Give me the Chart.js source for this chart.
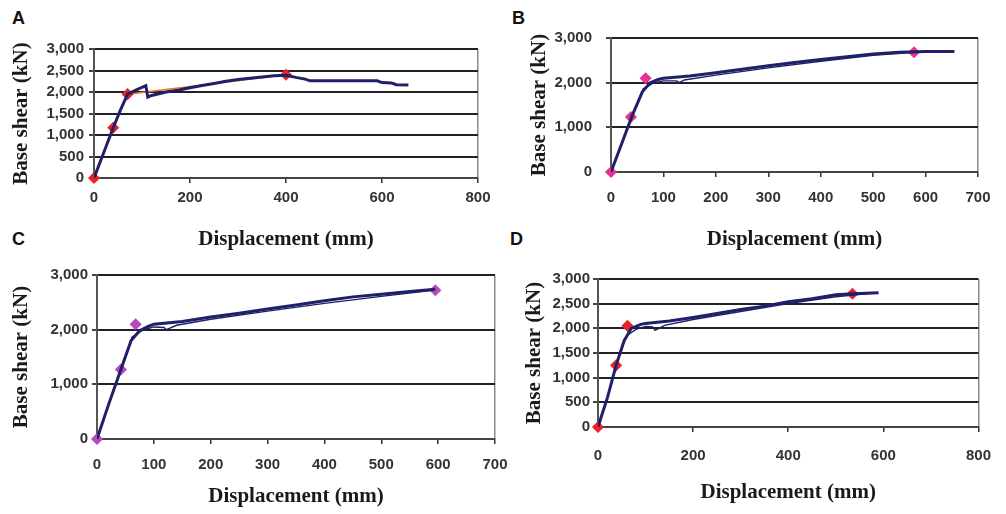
<!DOCTYPE html>
<html>
<head>
<meta charset="utf-8">
<script src="https://cdn.jsdelivr.net/npm/chart.js@4.4.0/dist/chart.umd.min.js"></script>
<style>
  body { margin: 0; background: #fff; width: 1006px; height: 514px; position: relative; overflow: hidden; }
  canvas { position: absolute; }
  .lbl { position: absolute; font: bold 18px "Liberation Sans", Arial, sans-serif; color: #111; }
</style>
</head>
<body>
<div class="lbl" style="left:12px;top:8px">A</div>
<div class="lbl" style="left:512px;top:8px">B</div>
<div class="lbl" style="left:12px;top:229px">C</div>
<div class="lbl" style="left:510px;top:229px">D</div>
<canvas id="chartA" width="503" height="257" style="left:0;top:0"></canvas>
<canvas id="chartB" width="503" height="257" style="left:503px;top:0"></canvas>
<canvas id="chartC" width="530" height="257" style="left:0;top:257px"></canvas>
<canvas id="chartD" width="503" height="257" style="left:503px;top:257px"></canvas>
<script>
// panel A - pushover curve, bilinear points
const aDisp  = [0, 20, 40, 55, 70, 85, 100, 108, 112, 120, 135, 150, 175, 200, 225, 250, 275, 300, 325, 350, 375, 400, 420, 440, 450, 500, 550, 590, 600, 620, 630, 655];
const aShear = [0, 580, 1170, 1580, 1950, 2030, 2110, 2150, 1880, 1920, 1960, 2000, 2040, 2100, 2150, 2200, 2250, 2290, 2320, 2350, 2380, 2390, 2340, 2300, 2260, 2260, 2260, 2260, 2220, 2210, 2170, 2160];
const aMarkDisp  = [0, 40, 70, 400];
const aMarkShear = [0, 1170, 1950, 2400];

// panel B
const bDisp  = [0, 20, 40, 60, 75, 90, 100, 150, 200, 250, 300, 350, 400, 450, 500, 550, 600, 655];
const bShear = [0, 620, 1250, 1800, 2000, 2070, 2100, 2150, 2220, 2300, 2380, 2450, 2520, 2580, 2640, 2680, 2700, 2700];
const bDisp2  = [60, 80, 100, 125, 130, 140, 200, 300, 400, 500, 580, 640];
const bShear2 = [1850, 1990, 2040, 2040, 2000, 2060, 2170, 2330, 2480, 2610, 2680, 2695];
const bMarkDisp  = [0, 38, 66, 578];
const bMarkShear = [0, 1230, 2100, 2680];

// panel C
const cDisp  = [0, 20, 42, 60, 75, 90, 100, 150, 200, 250, 300, 350, 400, 450, 500, 550, 595];
const cShear = [0, 620, 1270, 1800, 1980, 2060, 2100, 2150, 2230, 2300, 2380, 2450, 2530, 2600, 2650, 2700, 2740];
const cDisp2  = [60, 80, 100, 118, 122, 140, 200, 300, 400, 500, 590];
const cShear2 = [1850, 1990, 2050, 2040, 2000, 2080, 2190, 2340, 2480, 2610, 2720];
const cMarkDisp  = [0, 42, 68, 595];
const cMarkShear = [0, 1270, 2100, 2720];

// panel D
const dDisp  = [0, 20, 38, 55, 70, 90, 100, 150, 200, 250, 300, 350, 400, 450, 500, 535, 590];
const dShear = [0, 600, 1250, 1750, 2000, 2080, 2100, 2150, 2220, 2300, 2380, 2450, 2540, 2600, 2680, 2700, 2720];
const dDisp2  = [60, 80, 100, 115, 120, 140, 200, 300, 400, 500, 580];
const dShear2 = [1850, 1980, 2040, 2030, 1960, 2060, 2180, 2340, 2500, 2640, 2715];
const dMarkDisp  = [0, 38, 62, 535];
const dMarkShear = [0, 1250, 2050, 2700];

const xTitle = 'Displacement (mm)';
const yTitle = 'Base shear (kN)';

const NAVY = '#1f1f6a';
const tickFont = { family: '"Liberation Sans", Arial, sans-serif', size: 15, weight: 'bold' };
const titleFont = { family: '"Liberation Serif", "Times New Roman", serif', size: 21, weight: 'bold' };

const pts = (xs, ys) => xs.map((x, i) => ({ x: x, y: ys[i] }));

const makePanel = (id, o) => {
  const datasets = [
    { data: pts(o.disp, o.shear), showLine: true, borderColor: NAVY, borderWidth: 3, pointRadius: 0, tension: 0 }
  ];
  if (o.disp2) {
    datasets.push({ data: pts(o.disp2, o.shear2), showLine: true, borderColor: NAVY, borderWidth: 1.4, pointRadius: 0, tension: 0 });
  }
  datasets.push({
    data: pts(o.markDisp, o.markShear),
    showLine: o.markLine,
    clip: false,
    borderColor: '#e8732a',
    borderWidth: 1.5,
    pointStyle: 'rectRot',
    pointRadius: 5,
    pointBackgroundColor: o.markColor,
    pointBorderColor: o.markColor
  });

  new Chart(document.getElementById(id), {
    type: 'scatter',
    data: { datasets: datasets },
    options: {
      responsive: false,
      animation: false,
      events: [],
      layout: { padding: { left: 0, top: o.top, right: o.right, bottom: 0 } },
      plugins: { legend: { display: false }, tooltip: { enabled: false } },
      scales: {
        x: {
          type: 'linear', min: 0, max: o.xMax,
          ticks: { stepSize: o.xStep, padding: o.xPad, font: tickFont, color: '#333' },
          grid: {
            drawOnChartArea: true,
            color: (c) => (c.tick && c.tick.value === o.xMax) ? '#8a8a8a' : 'rgba(0,0,0,0)',
            tickColor: '#333', tickLength: 5, lineWidth: 1.5
          },
          border: { display: true, color: '#444', width: 2 },
          title: { display: true, text: xTitle, font: titleFont, color: '#1a1a1a', padding: { top: 0, bottom: o.xTitlePad } },
          afterFit: (s) => { s.height = o.xH; }
        },
        y: {
          min: 0, max: 3000,
          ticks: { stepSize: o.yStep, padding: o.yPad, font: tickFont, color: '#333' },
          grid: { color: '#222', lineWidth: 2, tickLength: 5, tickColor: '#444' },
          border: { display: true, color: '#555', width: 2 },
          title: { display: true, text: yTitle, font: titleFont, color: '#1a1a1a', padding: { top: o.yTitlePad, bottom: 0 } },
          afterFit: (s) => { s.width = o.yW; }
        }
      }
    }
  });
};

makePanel('chartA', {
  disp: aDisp, shear: aShear, markDisp: aMarkDisp, markShear: aMarkShear,
  markColor: '#e8232a', markLine: true,
  xMax: 800, xStep: 200, yStep: 500,
  top: 49, right: 25, yW: 94, xH: 79, yPad: 5, xPad: 6, yTitlePad: 9, xTitlePad: 5
});
makePanel('chartB', {
  disp: bDisp, shear: bShear, disp2: bDisp2, shear2: bShear2, markDisp: bMarkDisp, markShear: bMarkShear,
  markColor: '#e3338f', markLine: false,
  xMax: 700, xStep: 100, yStep: 1000,
  top: 38, right: 28, yW: 108, xH: 85, yPad: 14, xPad: 12, yTitlePad: 24, xTitlePad: 5
});
makePanel('chartC', {
  disp: cDisp, shear: cShear, disp2: cDisp2, shear2: cShear2, markDisp: cMarkDisp, markShear: cMarkShear,
  markColor: '#b948c0', markLine: false,
  xMax: 700, xStep: 100, yStep: 1000,
  top: 18, right: 35, yW: 97, xH: 75, yPad: 4, xPad: 12, yTitlePad: 9, xTitlePad: 5
});
makePanel('chartD', {
  disp: dDisp, shear: dShear, disp2: dDisp2, shear2: dShear2, markDisp: dMarkDisp, markShear: dMarkShear,
  markColor: '#e8232a', markLine: false,
  xMax: 800, xStep: 200, yStep: 500,
  top: 22, right: 16, yW: 95, xH: 87, yPad: 3, xPad: 15, yTitlePad: 19, xTitlePad: 9
});
</script>
</body>
</html>
